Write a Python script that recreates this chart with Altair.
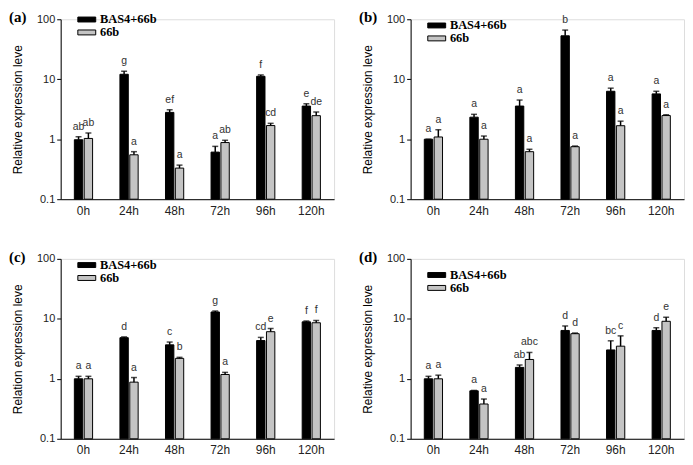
import altair as alt
import pandas as pd

times = ["0h", "24h", "48h", "72h", "96h", "120h"]
series = ["BAS4+66b", "66b"]

# panel (a)
a_bas = [0.98, 12.1, 2.8, 0.61, 11.2, 3.57]
a_bas_sd = [0.12, 1.5, 0.3, 0.15, 0.6, 0.33]
a_66b = [1.03, 0.55, 0.33, 0.88, 1.69, 2.47]
a_66b_sd = [0.24, 0.07, 0.04, 0.08, 0.15, 0.37]
a_bas_let = ["ab", "g", "ef", "a", "f", "e"]
a_66b_let = ["ab", "a", "a", "ab", "cd", "de"]

# panel (b)
b_bas = [1.0, 2.33, 3.57, 53.0, 6.3, 5.7]
b_bas_sd = [0.0, 0.27, 0.93, 13.0, 0.8, 0.6]
b_66b = [1.09, 1.0, 0.62, 0.75, 1.68, 2.48]
b_66b_sd = [0.35, 0.13, 0.06, 0.02, 0.32, 0.07]
b_bas_let = ["a", "a", "a", "b", "a", "a"]
b_66b_let = ["a", "a", "a", "a", "a", "a"]

# panel (c)
c_bas = [1.0, 4.85, 3.68, 13.0, 4.34, 8.9]
c_bas_sd = [0.1, 0.15, 0.42, 0.5, 0.56, 0.3]
c_66b = [1.0, 0.88, 2.19, 1.18, 6.1, 8.6]
c_66b_sd = [0.1, 0.17, 0.09, 0.1, 0.8, 0.8]
c_bas_let = ["a", "d", "c", "g", "cd", "f"]
c_66b_let = ["a", "a", "b", "a", "e", "f"]

# panel (d)
d_bas = [1.0, 0.63, 1.55, 6.4, 3.03, 6.4]
d_bas_sd = [0.1, 0.01, 0.15, 1.2, 1.27, 0.7]
d_66b = [1.0, 0.38, 2.1, 5.65, 3.5, 9.1]
d_66b_sd = [0.15, 0.08, 0.65, 0.15, 1.7, 1.5]
d_bas_let = ["a", "a", "ab", "d", "bc", "d"]
d_66b_let = ["a", "a", "abc", "d", "c", "e"]

W, H = 275, 181
SYM = "M-2,-0.55H2V0.55H-2Z"


def panel(tag, ytitle, bas, bas_sd, g66, g66_sd, bas_let, g66_let, leg_y):
    rows = []
    for i, t in enumerate(times):
        rows.append(dict(time=t, series=series[0], value=bas[i], top=bas[i] + bas_sd[i], letter=bas_let[i]))
        rows.append(dict(time=t, series=series[1], value=g66[i], top=g66[i] + g66_sd[i], letter=g66_let[i]))
    df = pd.DataFrame(rows)
    base = alt.Chart(df)
    x = alt.X("time:N", sort=times, title=None,
              scale=alt.Scale(paddingInner=0.6, paddingOuter=0.3),
              axis=alt.Axis(labelAngle=0, ticks=False, domainColor="black",
                            labelFontSize=12, labelColor="#222", labelPadding=6))
    xo = alt.XOffset("series:N", sort=series, scale=alt.Scale(paddingInner=0.15))
    yscale = alt.Scale(type="log", domain=[0.1, 100])
    y = alt.Y("value:Q", scale=yscale, title=ytitle,
              axis=alt.Axis(values=[0.1, 1, 10, 100], format="~g", grid=False,
                            domainColor="black", tickColor="black", tickSize=4,
                            labelFontSize=11, labelColor="#222", titleFontSize=12,
                            titleFontWeight="normal", titleColor="black", titlePadding=12))
    bars = base.mark_bar(stroke="black", strokeWidth=1).encode(
        x=x, xOffset=xo, y=y, y2=alt.datum(0.1),
        color=alt.Color("series:N", sort=series,
                        scale=alt.Scale(domain=series, range=["black", "#c4c4c4"]),
                        legend=alt.Legend(title=None, orient="none", legendX=20, legendY=leg_y,
                                          symbolType=SYM, symbolSize=81,
                                          symbolStrokeColor="black", symbolStrokeWidth=1,
                                          labelFont="Liberation Serif", labelFontWeight="bold",
                                          labelFontSize=12.5, labelColor="black",
                                          labelOffset=7, rowPadding=-8)),
    )
    rule = base.mark_rule(color="black", strokeWidth=1.5).encode(
        x=x, xOffset=xo, y=alt.Y("value:Q", scale=yscale), y2="top:Q")
    cap = base.mark_tick(color="black", thickness=1.5, size=6, orient="horizontal").encode(
        x=x, xOffset=xo, y=alt.Y("top:Q", scale=yscale))
    txt = base.mark_text(fontSize=10.5, color="#333", baseline="bottom", dy=-5).encode(
        x=x, xOffset=xo, y=alt.Y("top:Q", scale=yscale), text="letter:N")
    lab = alt.Chart(pd.DataFrame({"label": [tag]})).mark_text(
        font="Liberation Serif", fontWeight="bold", fontSize=15, align="left",
        baseline="middle", color="black").encode(
        text="label:N", x=alt.value(-52), y=alt.value(-2))
    return alt.layer(bars, rule, cap, txt, lab).properties(width=W, height=H)


pa = panel("(a)", "Relative expression leve", a_bas, a_bas_sd, a_66b, a_66b_sd, a_bas_let, a_66b_let, -6)
pb = panel("(b)", "Relative expression leve", b_bas, b_bas_sd, b_66b, b_66b_sd, b_bas_let, b_66b_let, 0)
pc = panel("(c)", "Relation expression leve", c_bas, c_bas_sd, c_66b, c_66b_sd, c_bas_let, c_66b_let, 0)
pd_ = panel("(d)", "Relative expression leve", d_bas, d_bas_sd, d_66b, d_66b_sd, d_bas_let, d_66b_let, 10)

chart = alt.concat(pa, pb, pc, pd_, columns=2, spacing={"row": 32, "column": 23}).resolve_scale(
    color="independent").properties(padding=0).configure_view(stroke=None).configure(
    font="Liberation Sans")

chart.save("out.html", embed_options={"renderer": "svg", "actions": False})
